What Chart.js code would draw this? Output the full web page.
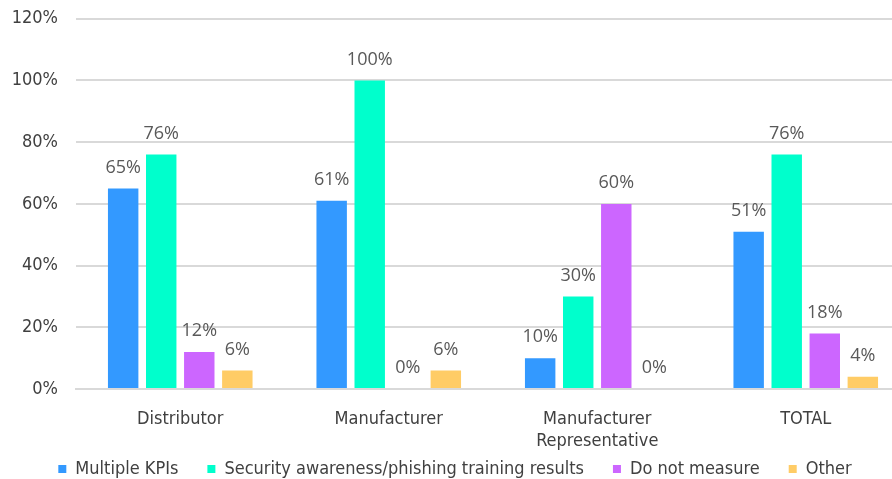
<!DOCTYPE html>
<html lang="en">
<head>
  <meta charset="UTF-8" />
  <title>KPIs by company type</title>
  <script src="https://cdn.jsdelivr.net/npm/chart.js"></script>
  <style>
    html, body { margin: 0; padding: 0; background: #fff; overflow: hidden; }
    .wrap { width: 892px; height: 479px; overflow: hidden; position: relative; }
    .wrap canvas { position: absolute; left: 0; top: -10px; }
  </style>
</head>
<body>
<div class="wrap">
  <canvas id="kpiChart" width="910" height="498"></canvas>
</div>
<script>
  const categories = ['Distributor', 'Manufacturer', ['Manufacturer', 'Representative'], 'TOTAL'];
  const seriesNames = ['Multiple KPIs', 'Security awareness/phishing training results', 'Do not measure', 'Other'];
  const multipleKpis = [65, 61, 10, 51];
  const securityTraining = [76, 100, 30, 76];
  const doNotMeasure = [12, 0, 60, 18];
  const other = [6, 6, 0, 4];
  const yTicks = [0, 20, 40, 60, 80, 100, 120];
  const colors = ['#3399ff', '#00ffcc', '#cc66ff', '#ffcc66'];

  const tickFont = { family: '"Liberation Sans Narrow", "DejaVu Sans Condensed", sans-serif', size: 18 };

  // labels above each bar
  const valueLabels = {
    id: 'valueLabels',
    afterLayout(chart) {
      // let the two-line category label spill below the axis box
      chart.scales.x.bottom = chart.scales.x.top + 80;
    },
    afterDatasetsDraw(chart) {
      const ctx = chart.ctx;
      ctx.save();
      ctx.font = '18px "Open Sans", sans-serif';
      ctx.fillStyle = '#595959';
      ctx.textAlign = 'center';
      ctx.textBaseline = 'middle';
      chart.data.datasets.forEach((ds, i) => {
        chart.getDatasetMeta(i).data.forEach((bar, j) => {
          ctx.fillText(Math.round(ds.data[j]) + '%', bar.x, bar.y - 21);
        });
      });
      ctx.restore();
    }
  };

  const values = [multipleKpis, securityTraining, doNotMeasure, other];

  new Chart(document.getElementById('kpiChart'), {
    type: 'bar',
    data: {
      labels: categories,
      datasets: seriesNames.map((name, i) => ({
        label: name,
        data: values[i],
        backgroundColor: colors[i],
        borderWidth: 0,
        barPercentage: 0.8,
        categoryPercentage: 0.73
      }))
    },
    options: {
      responsive: false,
      animation: false,
      layout: { padding: { top: 9, left: 0, right: 0, bottom: 0 } },
      plugins: {
        tooltip: { enabled: false },
        legend: {
          position: 'bottom',
          labels: {
            boxWidth: 8,
            boxHeight: 8,
            padding: 29,
            color: '#404040',
            font: tickFont
          }
        }
      },
      scales: {
        y: {
          min: 0,
          max: 120,
          afterFit: s => { s.width = 76; },
          afterBuildTicks: s => { s.ticks = yTicks.map(v => ({ value: v })); },
          ticks: {
            padding: 18,
            color: '#404040',
            font: tickFont,
            callback: v => v + '%'
          },
          grid: { color: '#d9d9d9', lineWidth: 2, drawTicks: false },
          border: { display: false }
        },
        x: {
          afterFit: s => { s.height = 42; },
          ticks: { color: '#404040', font: tickFont, padding: 12 },
          grid: { display: false },
          border: { color: '#d9d9d9', width: 2 }
        }
      }
    },
    plugins: [valueLabels]
  });
</script>
</body>
</html>
